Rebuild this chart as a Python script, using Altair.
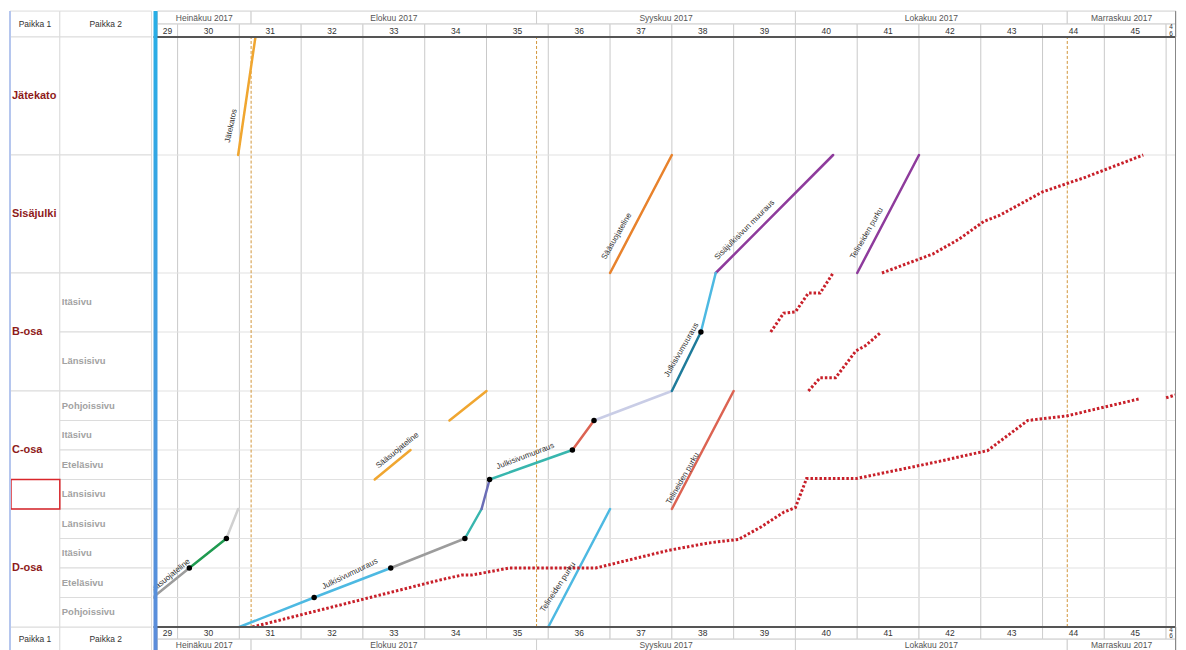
import altair as alt
import pandas as pd

# ================= values =================
WEEKS = list(range(29, 47))
MONTH_NAMES = ["Heinäkuu 2017", "Elokuu 2017", "Syyskuu 2017", "Lokakuu 2017", "Marraskuu 2017"]
MONTH_EDGES = [29.61, 31.19, 35.81, 40.0, 44.40, 46.16]   # in week units
MILESTONES = [31.19, 35.81, 44.40]

GROUPS = ["Jätekato", "Sisäjulki", "B-osa", "C-osa", "D-osa"]
GROUP_LO = [16, 12, 8, 4, 0]
GROUP_HI = [20, 16, 12, 8, 4]

SUB_NAMES = ["", "", "Itäsivu", "Länsisivu", "Pohjoissivu", "Itäsivu", "Eteläsivu",
             "Länsisivu", "Länsisivu", "Itäsivu", "Eteläsivu", "Pohjoissivu"]
SUB_LO = [16, 12, 10, 8, 7, 6, 5, 4, 3, 2, 1, 0]
SUB_HI = [20, 16, 12, 10, 8, 7, 6, 5, 4, 3, 2, 1]
SELECTED_CELL = [4, 5]
ROW_EDGES = [0, 1, 2, 3, 4, 5, 6, 7, 8, 10, 12, 16, 20]

# task paths: (week, location unit)
JATEKATOS = [(30.98, 16.0), (31.26, 20.0)]
SAASUOJA_SISA = [(37.0, 12.0), (38.0, 16.0)]
SISAJULKI_MUURAUS = [(38.71, 12.0), (40.61, 16.0)]
PURKU_SISA = [(41.0, 12.0), (42.0, 16.0)]
SAASUOJA_C_POHJ = [(34.40, 7.0), (35.0, 8.0)]
SAASUOJA_C_ETE = [(33.19, 5.0), (33.77, 6.0)]
PURKU_D = [(36.0, 0.0), (37.0, 4.0)]
PURKU_C = [(38.0, 4.0), (39.0, 8.0)]
SAASUOJA_D = [(29.0, 0.0), (29.6, 1.0), (30.19, 2.0), (30.79, 3.0), (30.98, 4.0)]
JULKISIVU = [(31.0, 0.0), (32.21, 1.0), (33.45, 2.0), (34.65, 3.0), (34.92, 4.0),
             (35.05, 5.0), (36.39, 6.0), (36.74, 7.0), (38.0, 8.0), (38.47, 10.0), (38.71, 12.0)]

# progress (red dotted)
PROG_DC = [(31.21, 0.0), (34.24, 1.59), (34.60, 1.76), (34.76, 1.76), (35.37, 2.0),
           (36.77, 2.0), (37.95, 2.6), (38.6, 2.85), (39.08, 2.97), (39.45, 3.4),
           (39.81, 3.89), (40.0, 4.05), (40.18, 5.03), (40.98, 5.03), (42.23, 5.57),
           (43.11, 5.98), (43.76, 7.0), (44.40, 7.16), (45.58, 7.74)]
PROG_END = [(46.0, 7.77), (46.16, 7.87)]
PROG_B_ITA = [(39.60, 10.0), (39.81, 10.64), (40.0, 10.68), (40.21, 11.32), (40.40, 11.32), (40.61, 12.0)]
PROG_B_LANSI = [(40.21, 8.0), (40.40, 8.45), (40.65, 8.45), (40.98, 9.36), (41.13, 9.53), (41.39, 10.0)]
PROG_SISA = [(41.40, 12.0), (42.23, 12.65), (42.65, 13.15), (43.05, 13.75), (43.30, 13.95),
             (44.0, 14.75), (44.70, 15.25), (45.63, 16.0)]

DOTS = [(32.21, 1.0), (33.45, 2.0), (34.65, 3.0), (35.05, 5.0), (36.39, 6.0),
        (36.74, 7.0), (38.47, 10.0), (30.19, 2.0), (30.79, 3.0)]

LABEL_TEXT = ["Jätekatos", "Sääsuojateline", "Sisäjulkisivun muuraus", "Telineiden purku",
              "Julkisivumuuraus", "Sääsuojateline", "Julkisivumuuraus", "Julkisivumuuraus",
              "Sääsuojateline", "Telineiden purku", "Telineiden purku"]
LABEL_X = [30.87, 37.11, 39.18, 41.16, 38.16, 33.56, 35.63, 32.79, 29.86, 36.16, 38.18]
LABEL_Y = [16.99, 13.24, 13.45, 13.34, 9.39, 5.98, 5.78, 1.79, 1.69, 1.35, 5.03]

# ================= styles =================
ORANGE = "#F0A630"
ORANGE2 = "#E8822C"
PURPLE = "#8E3B9C"
LBLUE = "#4DB9E2"
GRAY = "#9C9C9C"
TEAL = "#38B6AE"
PBLUE = "#6B6DB6"
SALMON = "#DC6352"
LAVENDER = "#C9CDE6"
DTEAL = "#1E7B9A"
GREEN = "#1F9A50"
LGRAY = "#D0D0D0"

TASKS = [JATEKATOS, SAASUOJA_SISA, SISAJULKI_MUURAUS, PURKU_SISA, SAASUOJA_C_POHJ,
         SAASUOJA_C_ETE, PURKU_D, PURKU_C, SAASUOJA_D, JULKISIVU]
TASK_COLORS = [[ORANGE], [ORANGE2], [PURPLE], [PURPLE], [ORANGE], [ORANGE], [LBLUE], [SALMON],
               [GRAY, GRAY, GREEN, LGRAY],
               [LBLUE, LBLUE, GRAY, TEAL, PBLUE, TEAL, SALMON, LAVENDER, DTEAL, LBLUE]]
PROGRESS = [PROG_DC, PROG_END, PROG_B_ITA, PROG_B_LANSI, PROG_SISA]
LABEL_ANGLE = [282, 300, 315, 300, 300, 321, 339, 334, 321, 303, 300]

FONT = "Liberation Sans"
X0, X1 = MONTH_EDGES[0], MONTH_EDGES[-1]
PX_WEEK = 62.0
PX_UNIT = 29.6
Y_TOP_WEEK = 20 + 13 / PX_UNIT
Y1 = Y_TOP_WEEK + 13 / PX_UNIT
Y_BOT_WEEK = -12 / PX_UNIT
Y0 = Y_BOT_WEEK - 12 / PX_UNIT
W_RIGHT = round((X1 - X0) * PX_WEEK)
H = round((Y1 - Y0) * PX_UNIT)
W_LEFT = 145
BAR_W = 4 / PX_WEEK
STACK_OFF = 3.2 / PX_UNIT

xs = alt.Scale(domain=[X0, X1], nice=False, zero=False)
ys = alt.Scale(domain=[Y0, Y1], nice=False, zero=False)
lxs = alt.Scale(domain=[0, W_LEFT], nice=False, zero=False)


def X(f, s=xs):
    return alt.X(f, type="quantitative", scale=s, axis=None)


def Y(f):
    return alt.Y(f, type="quantitative", scale=ys, axis=None)


# ================= right (timeline) panel =================
wgrid = pd.DataFrame({"x": WEEKS[1:], "y": 0, "y2": 20})
rgrid = pd.DataFrame({"y": ROW_EDGES[1:-1], "x": X0, "x2": X1})
miles = pd.DataFrame({"x": MILESTONES, "y": 0, "y2": 20})

seg_rows = []
for ti, (pts, cols) in enumerate(zip(TASKS, TASK_COLORS)):
    for si in range(len(pts) - 1):
        for k in (0, 1):
            seg_rows.append({"seg": f"{ti}_{si}", "o": k, "x": pts[si + k][0],
                             "y": pts[si + k][1], "c": cols[si]})
segs = pd.DataFrame(seg_rows)

prog_rows = []
for pi, pts in enumerate(PROGRESS):
    for k, (x, y) in enumerate(pts):
        prog_rows.append({"p": pi, "o": k, "x": x, "y": y})
prog = pd.DataFrame(prog_rows)

dots = pd.DataFrame(DOTS, columns=["x", "y"])
labels = pd.DataFrame({"t": LABEL_TEXT, "x": LABEL_X, "y": LABEL_Y, "a": LABEL_ANGLE})


def week_cells(ylo, yhi):
    cells, texts, stacked = [], [], []
    for w in WEEKS:
        a, b = max(w, X0 + BAR_W), min(w + 1, X1)
        xm, ym = (a + b) / 2, (ylo + yhi) / 2
        cells.append({"x": a, "x2": b, "y": ylo, "y2": yhi})
        if b - a > 0.25:
            texts.append({"xm": xm, "ym": ym, "t": str(w)})
        else:  # very narrow cell: digits stacked
            s = str(w)
            stacked.append({"xm": xm, "ym": ym + STACK_OFF, "t": s[0]})
            stacked.append({"xm": xm, "ym": ym - STACK_OFF, "t": s[1]})
    return cells, texts, stacked


def month_cells(ylo, yhi):
    rows = []
    for i, name in enumerate(MONTH_NAMES):
        a, b = max(MONTH_EDGES[i], X0 + BAR_W), MONTH_EDGES[i + 1]
        rows.append({"x": a, "x2": b, "xm": (a + b) / 2, "y": ylo, "y2": yhi,
                     "ym": (ylo + yhi) / 2, "t": name})
    return pd.DataFrame(rows)


c1, t1, s1 = week_cells(20, Y_TOP_WEEK)
c2, t2, s2 = week_cells(Y_BOT_WEEK, 0)
wk_cells = pd.DataFrame(c1 + c2)
wk_text = pd.DataFrame(t1 + t2)
wk_stack = pd.DataFrame(s1 + s2)
hdr_months = pd.concat([month_cells(Y_TOP_WEEK, Y1), month_cells(Y0, Y_BOT_WEEK)])

layers = [
    alt.Chart(wgrid).mark_rule(color="#C9C9C9", strokeWidth=1).encode(X("x"), Y("y"), y2="y2"),
    alt.Chart(rgrid).mark_rule(color="#E1E1E1", strokeWidth=1).encode(X("x"), Y("y"), x2="x2"),
    alt.Chart(miles).mark_rule(color="#D2963A", strokeWidth=1, strokeDash=[3, 2]).encode(X("x"), Y("y"), y2="y2"),
    alt.Chart(segs).mark_line(strokeWidth=2.5, clip=True, strokeCap="round").encode(
        X("x"), Y("y"), detail="seg:N", order="o:Q", color=alt.Color("c:N", scale=None)),
    alt.Chart(prog).mark_line(color="#C8202A", strokeWidth=3, strokeDash=[2.5, 2], clip=True).encode(
        X("x"), Y("y"), detail="p:N", order="o:Q"),
    alt.Chart(dots).mark_circle(size=30, color="black", opacity=1).encode(X("x"), Y("y")),
    alt.Chart(labels).mark_text(font=FONT, fontSize=8, color="#333333", clip=True).encode(
        X("x"), Y("y"), text="t:N", angle=alt.Angle("a:Q", scale=None)),
    # header cells
    alt.Chart(hdr_months).mark_rect(fill="white", stroke="#CFCFCF", strokeWidth=1).encode(
        X("x"), x2="x2", y=Y("y"), y2="y2"),
    alt.Chart(hdr_months).mark_text(font=FONT, fontSize=8.5, color="#555555").encode(
        X("xm"), Y("ym"), text="t:N"),
    alt.Chart(wk_cells).mark_rect(fill="white", stroke="#CFCFCF", strokeWidth=1).encode(
        X("x"), x2="x2", y=Y("y"), y2="y2"),
    alt.Chart(wk_text).mark_text(font=FONT, fontSize=8.5, color="#333333").encode(
        X("xm"), Y("ym"), text="t:N"),
    alt.Chart(wk_stack).mark_text(font=FONT, fontSize=6.5, color="#333333").encode(
        X("xm"), Y("ym"), text="t:N"),
    # dark separators between header and plot
    alt.Chart(pd.DataFrame({"y": [20, 0], "x": X0, "x2": X1})).mark_rule(
        color="#555555", strokeWidth=2).encode(X("x"), Y("y"), x2="x2"),
    # right border
    alt.Chart(pd.DataFrame({"x": [X1 - 0.008], "y": [Y0], "y2": [Y1]})).mark_rule(
        color="#888888", strokeWidth=1).encode(X("x"), Y("y"), y2="y2"),
    # left blue bar
    alt.Chart(pd.DataFrame({"x": [X0], "x2": [X0 + BAR_W], "y": [Y0], "y2": [Y1]})).mark_rect(
        color=alt.Gradient(gradient="linear",
                           stops=[alt.GradientStop(color="#27AEE6", offset=0),
                                  alt.GradientStop(color="#5C8CDA", offset=1)],
                           x1=0, x2=0, y1=0, y2=1)).encode(X("x"), x2="x2", y=Y("y"), y2="y2"),
]
right = alt.layer(*layers).properties(width=W_RIGHT, height=H)

# ================= left (location table) panel =================
C0, C1, C2 = 1, 51, 143
groups = pd.DataFrame({"t": GROUPS, "y": GROUP_LO, "y2": GROUP_HI})
groups["ym"] = (groups["y"] + groups["y2"]) / 2
groups["x"], groups["x2"], groups["xt"] = C0, C1, C0 + 2
subs = pd.DataFrame({"t": SUB_NAMES, "y": SUB_LO, "y2": SUB_HI})
subs["ym"] = (subs["y"] + subs["y2"]) / 2
subs["x"], subs["x2"], subs["xt"] = C1, C2, C1 + 2
heads = pd.DataFrame({"t": ["Paikka 1", "Paikka 2", "Paikka 1", "Paikka 2"],
                      "x": [C0, C1, C0, C1], "x2": [C1, C2, C1, C2],
                      "y": [20, 20, Y0, Y0], "y2": [Y1, Y1, 0, 0]})
heads["xm"] = (heads["x"] + heads["x2"]) / 2
heads["ym"] = (heads["y"] + heads["y2"]) / 2
sel = pd.DataFrame({"x": [C0 + 1], "x2": [C1], "y": [SELECTED_CELL[0]], "y2": [SELECTED_CELL[1]]})

LX = lambda f: X(f, lxs)
left = alt.layer(
    alt.Chart(heads).mark_rect(fill="white", stroke="#DCDCDC", strokeWidth=1).encode(
        LX("x"), x2="x2", y=Y("y"), y2="y2"),
    alt.Chart(heads).mark_text(font=FONT, fontSize=8.5, color="#333333").encode(
        LX("xm"), Y("ym"), text="t:N"),
    alt.Chart(groups).mark_rect(fill="white", stroke="#DCDCDC", strokeWidth=1).encode(
        LX("x"), x2="x2", y=Y("y"), y2="y2"),
    alt.Chart(subs).mark_rect(fill="white", stroke="#DCDCDC", strokeWidth=1).encode(
        LX("x"), x2="x2", y=Y("y"), y2="y2"),
    alt.Chart(groups).mark_text(font=FONT, fontSize=11, fontWeight="bold", color="#8E1B1B",
                                align="left").encode(LX("xt"), Y("ym"), text="t:N"),
    alt.Chart(subs).mark_text(font=FONT, fontSize=9.5, fontWeight="bold", color="#A2A2A2",
                              align="left").encode(LX("xt"), Y("ym"), text="t:N"),
    alt.Chart(sel).mark_rect(fillOpacity=0, stroke="#D9262B", strokeWidth=1.5).encode(
        LX("x"), x2="x2", y=Y("y"), y2="y2"),
    alt.Chart(pd.DataFrame({"x": [C0], "y": [Y0], "y2": [Y1]})).mark_rule(
        color="#B5C6EE", strokeWidth=2).encode(LX("x"), Y("y"), y2="y2"),
).properties(width=W_LEFT, height=H)

chart = alt.hconcat(left, right, spacing=0, padding=0, bounds="flush").configure_view(stroke="transparent")
chart.save("out.html", embed_options={"renderer": "svg", "actions": False})
